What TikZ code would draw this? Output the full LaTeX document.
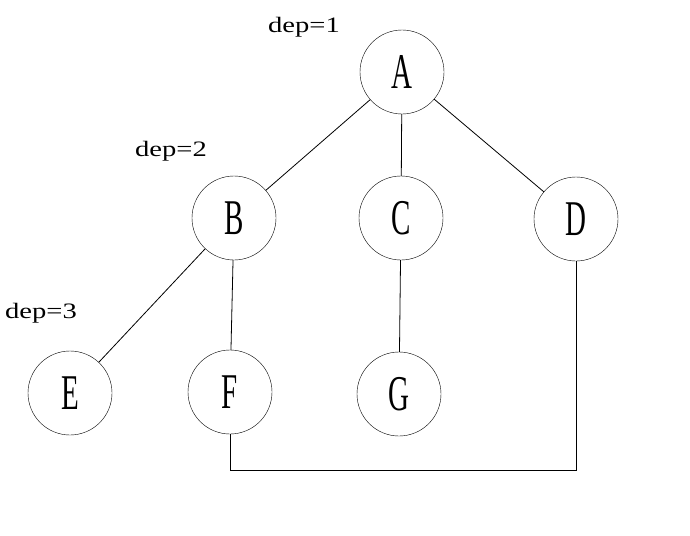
\documentclass[tikz,border=0pt]{standalone}
\usepackage{fontspec}
\usepackage{graphicx}
\setmainfont{Liberation Serif}
\usetikzlibrary{positioning}

\begin{document}
\begin{tikzpicture}[x=1pt,y=-1pt,
  vtx/.style={draw,circle,minimum size=84pt,inner sep=0pt,font=\fontsize{50}{50}\selectfont},
  lvl/.style={font=\fontsize{22}{22}\selectfont,inner sep=0pt},
  edge/.style={line width=0.8pt}]
\useasboundingbox (0,0) rectangle (690,535);
\node[vtx] (a) at (402,72) {\scalebox{0.58}[1]{A}};
\node[vtx] (b) at (234,218) {\scalebox{0.58}[1]{B}};
\node[vtx] (c) at (401,218) {\scalebox{0.58}[1]{C}};
\node[vtx] (d) at (576,219) {\scalebox{0.58}[1]{D}};
\node[vtx] (e) at (70,393) {\scalebox{0.58}[1]{E}};
\node[vtx] (f) at (230,392) {\scalebox{0.58}[1]{F}};
\node[vtx] (g) at (399,394) {\scalebox{0.58}[1]{G}};
\node[lvl] (d1) at (304,27) {\scalebox{1.3}[1]{dep=1}};
\node[lvl] (d2) at (171,151) {\scalebox{1.3}[1]{dep=2}};
\node[lvl] (d3) at (41,313) {\scalebox{1.3}[1]{dep=3}};
\draw[edge] (a)--(b); \draw[edge] (a)--(c); \draw[edge] (a)--(d);
\draw[edge] (b)--(e); \draw[edge] (b)--(f); \draw[edge] (c)--(g);
\draw[edge] (f.south) -- ++(0,36) -| (d.south);
\end{tikzpicture}
\end{document}
